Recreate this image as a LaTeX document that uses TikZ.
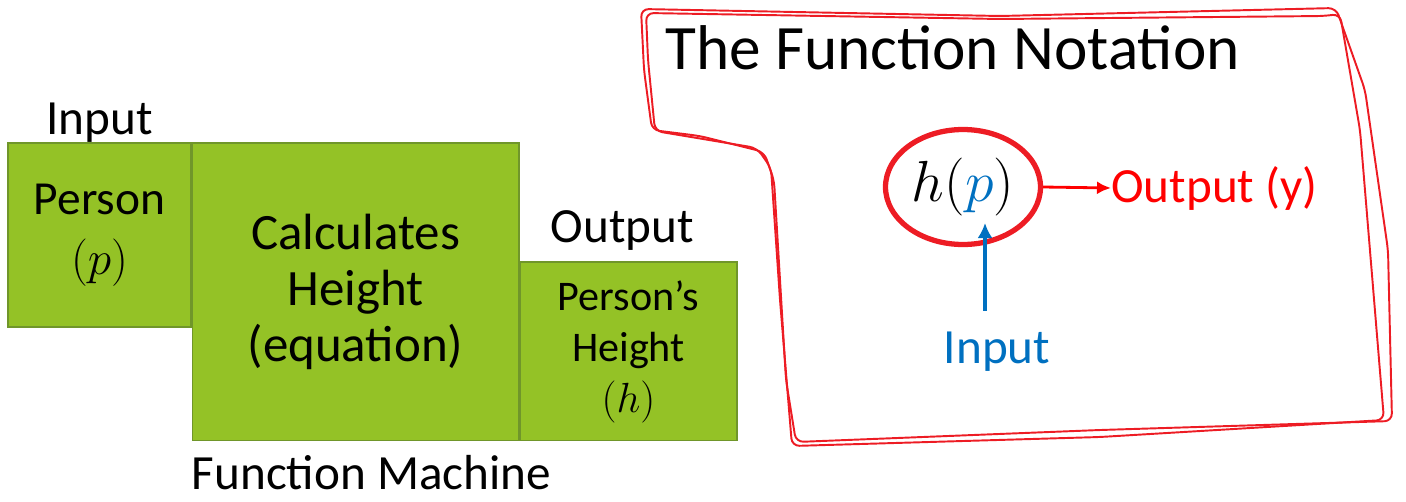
\RequirePackage{fix-cm}
\documentclass[tikz,border=0pt]{standalone}
\usepackage{fontspec}
\setmainfont{Carlito}
\usepackage{xcolor}
\usetikzlibrary{arrows.meta,calc,positioning,shapes.geometric}
\definecolor{machgreen}{RGB}{148,194,38}
\definecolor{machedge}{RGB}{112,150,42}
\definecolor{sketchred}{RGB}{237,28,36}
\definecolor{notered}{RGB}{255,0,0}
\definecolor{noteblue}{RGB}{0,112,192}
\tikzset{%
	machbox/.style  = {draw=machedge, fill=machgreen, line width=0.6pt, rectangle, align=center, inner sep=0pt},
	lbltext/.style  = {inner sep=0pt, font=\fontsize{28}{34}\selectfont},
	sketch/.style   = {draw=sketchred, line width=1.1pt, rounded corners=0.15cm},
	outarrow/.style = {draw=notered, line width=1.6pt, -{Latex[length=0.28cm,width=0.26cm]}},
	inarrow/.style  = {draw=noteblue, line width=2.2pt, -{Latex[length=0.3cm,width=0.3cm]}},
}
\begin{document}
\begin{tikzpicture}[x=0.02cm,y=-0.02cm]
		\useasboundingbox (0,0) rectangle (1406,501);
		% function machine
		\node[machbox, minimum width=3.66cm, minimum height=3.68cm, font=\fontsize{27}{34}\selectfont] (person) at (99.5,235) {Person\\$(p)$};
		\node[machbox, minimum width=6.54cm, minimum height=5.96cm, anchor=north west, font=\fontsize{29}{32}\selectfont] (calc) at (person.north east) {Calculates\\Height\\(equation)};
		\node[machbox, minimum width=4.34cm, minimum height=3.58cm, anchor=south west, font=\fontsize{24}{29}\selectfont] (height) at (calc.south east) {Person’s\\Height\\$(h)$};
		\node[lbltext, above=0pt of person] (inlbl) {Input};
		\node[lbltext, above=0.22cm of height, xshift=-0.12cm] (outlbl) {Output};
		\node[lbltext, anchor=north west] (fm) at ([yshift=-0.26cm]calc.south west) {Function Machine};
		% hand drawn frame
		\draw[sketch] (641,9) -- (1000,16) -- (1336,8) -- (1365,90) -- (1388,250) -- (1392,421) -- (1100,430) -- (796,442) -- (786,380) -- (774,180) -- (764,152) -- (700,136) -- (652,130) -- (644,70) -- cycle;
		\draw[sketch] (646,13) -- (1000,19) -- (1324,16) -- (1340,14) -- (1360,130) -- (1384,420) -- (1100,437) -- (792,446) -- (780,300) -- (771,168) -- (757,148) -- (655,131) -- (648,60) -- cycle;
		% notation
		\node[inner sep=0pt, anchor=west, font=\fontsize{36}{42}\selectfont] (title) at (665,48) {The Function Notation};
		\node[draw=sketchred, line width=3pt, ellipse, minimum width=3.1cm, minimum height=2.3cm, inner sep=0pt, font=\fontsize{33}{40}\selectfont] (hp) at (963,187) {$h(\textcolor{noteblue}{p})$};
		\node[lbltext, anchor=west, text=notered] (outy) at (1111,188) {Output (y)};
		\node[lbltext, text=noteblue] (inp) at (997,352) {Input};
		\coordinate (tip) at (985,223);
		\draw[outarrow] (hp.east) -- (outy.west);
		\draw[inarrow, shorten <=0.42cm] (inp.north -| tip) -- (tip);
\end{tikzpicture}
\end{document}
